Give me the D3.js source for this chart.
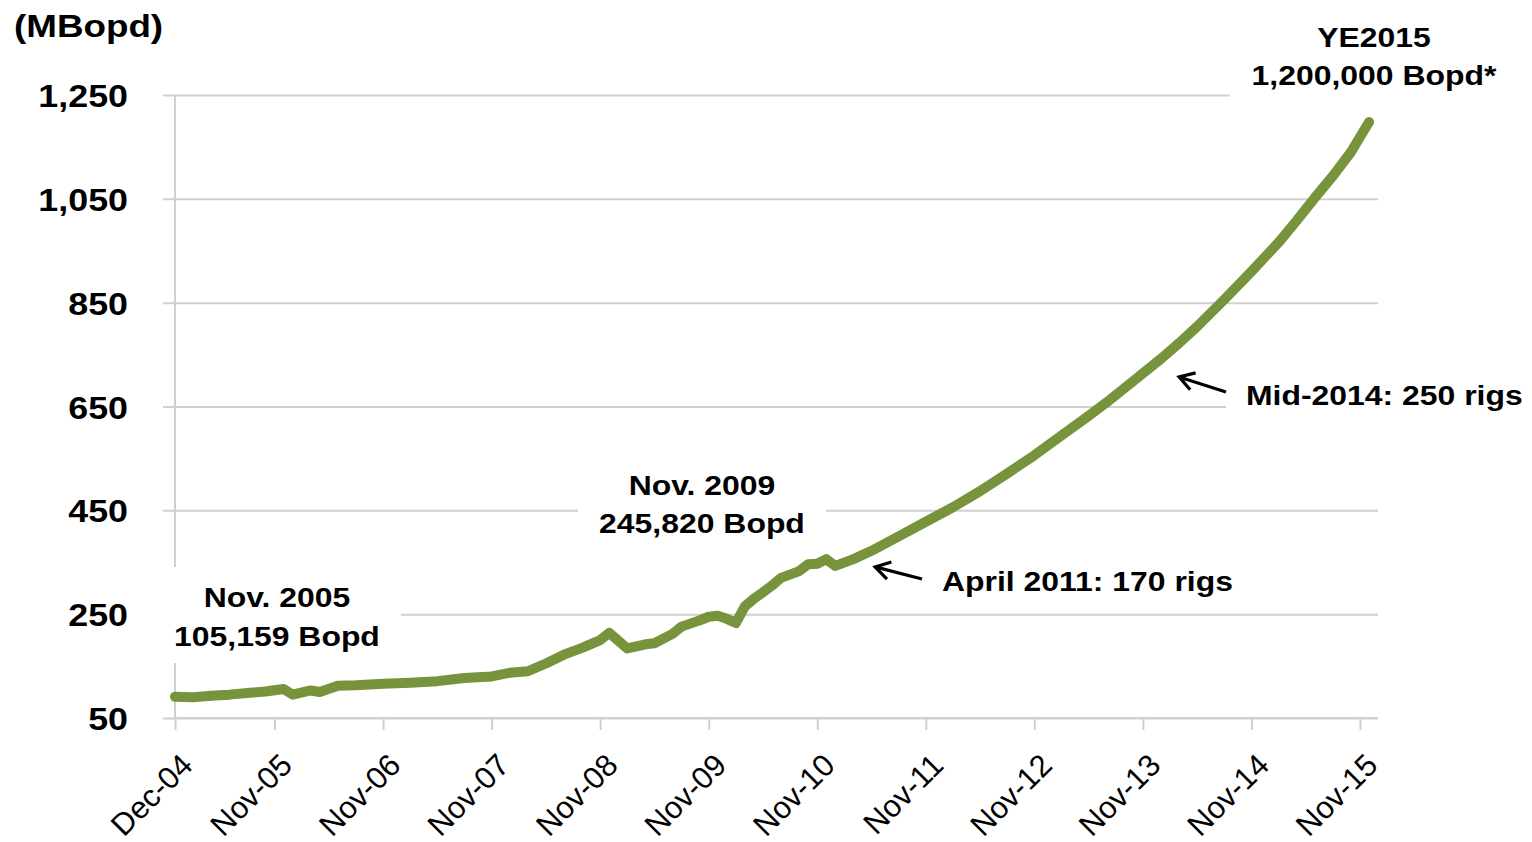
<!DOCTYPE html>
<html>
<head>
<meta charset="utf-8">
<script src="https://cdn.jsdelivr.net/npm/d3@7"></script>
<style>
  body { margin: 0; background: #fff; }
  svg { display: block; font-family: "Liberation Sans", Arial, sans-serif; }
</style>
</head>
<body>
<svg width="1532" height="842"></svg>
<script>
// months counted from Dec-04 (0) to Dec-15 (132)
var months = [0, 2, 4, 6, 8, 10, 12, 13, 15, 16, 18, 20, 23, 26, 29, 32, 35, 37, 39, 41, 43, 45, 47, 48, 50, 52, 53, 55, 56, 58, 59, 60, 61, 62, 63, 64, 65, 66, 67, 69, 70, 71, 72, 73, 75, 77, 80, 83, 86, 89, 92, 95, 98, 101, 103, 106, 109, 111, 113, 116, 119, 122, 124, 126, 128, 130, 132];
var production = [91, 90, 93, 95, 98, 101, 106, 95, 103, 100, 112, 113, 116, 118, 121, 127, 130, 137, 140, 155, 172, 185, 200, 214, 184, 192, 194, 212, 226, 238, 245, 247, 241, 233, 265, 280, 292, 305, 320, 333, 346, 347, 356, 343, 356, 372, 400, 428, 456, 487, 521, 556, 594, 632, 658, 700, 742, 772, 804, 856, 910, 966, 1008, 1052, 1094, 1140, 1198];

var tickMonths = [0, 11, 23, 35, 47, 59, 71, 83, 95, 107, 119, 131];
var tickLabels = ["Dec-04", "Nov-05", "Nov-06", "Nov-07", "Nov-08", "Nov-09", "Nov-10", "Nov-11", "Nov-12", "Nov-13", "Nov-14", "Nov-15"];
var yTicks = [50, 250, 450, 650, 850, 1050, 1250];

var svg = d3.select("svg");

var x = d3.scaleLinear().domain([0, 131]).range([175, 1360]);
var y = d3.scaleLinear().domain([50, 1250]).range([718, 95]);

var grid = "#d0d0d0",
    green = "#77933c",
    font = "'Liberation Sans', Arial, sans-serif";

// gridlines + y ticks
var yAxis = d3.axisLeft(y)
  .tickValues(yTicks)
  .tickSize(-(x(133) - x(0)))
  .tickSizeOuter(0)
  .tickFormat(d3.format(","));

var gy = svg.append("g").attr("transform", "translate(" + x(0) + ",0)").call(yAxis);
gy.select(".domain").remove();
gy.selectAll(".tick line").attr("stroke", grid).attr("stroke-width", 2).attr("x1", -12);
gy.selectAll(".tick text")
  .attr("fill", "#000")
  .attr("font-size", 32)
  .attr("font-weight", "bold")
  .attr("font-family", font)
  .attr("dy", "0.36em")
  .attr("transform", "scale(1.12,1)")
  .attr("x", -47 / 1.12);

// vertical axis line
svg.append("line")
  .attr("x1", x(0)).attr("x2", x(0))
  .attr("y1", y(1250)).attr("y2", y(50))
  .attr("stroke", grid).attr("stroke-width", 2);

// x axis
var xAxis = d3.axisBottom(x)
  .tickValues(tickMonths)
  .tickSize(12)
  .tickSizeOuter(0)
  .tickFormat(function(d, i) { return tickLabels[i]; });

var gx = svg.append("g").attr("transform", "translate(0," + y(50) + ")").call(xAxis);
gx.select(".domain").attr("stroke", grid).attr("stroke-width", 2)
  .attr("d", "M" + x(0) + ",0H" + x(133));
gx.selectAll(".tick line").attr("stroke", grid).attr("stroke-width", 2);
gx.selectAll(".tick text")
  .attr("fill", "#000")
  .attr("font-size", 31)
  .attr("font-family", font)
  .attr("text-anchor", "end")
  .attr("y", 0)
  .attr("dy", 0)
  .attr("transform", "translate(19,49) rotate(-45)");

// white boxes behind the annotation text
var boxes = [
  [150, 567, 251, 96],
  [578, 462, 248, 80],
  [1230, 18, 295, 84],
  [1226, 375, 305, 40],
  [935, 558, 305, 44]
];
svg.selectAll("rect.box").data(boxes).enter().append("rect")
  .attr("class", "box")
  .attr("x", function(d) { return d[0]; })
  .attr("y", function(d) { return d[1]; })
  .attr("width", function(d) { return d[2]; })
  .attr("height", function(d) { return d[3]; })
  .attr("fill", "#fff");

// production line
var line = d3.line()
  .x(function(d, i) { return x(months[i]); })
  .y(function(d) { return y(d); });

svg.append("path")
  .datum(production)
  .attr("d", line)
  .attr("fill", "none")
  .attr("stroke", green)
  .attr("stroke-width", 10)
  .attr("stroke-linejoin", "round")
  .attr("stroke-linecap", "round");

// text helper
function label(tx, ty, str, size, anchor, sx) {
  svg.append("text")
    .attr("transform", "translate(" + tx + "," + ty + ") scale(" + sx + ",1)")
    .attr("text-anchor", anchor)
    .attr("font-size", size)
    .attr("font-weight", "bold")
    .attr("font-family", font)
    .attr("fill", "#000")
    .text(str);
}

label(14, 37, "(MBopd)", 32, "start", 1.15);

label(277, 607, "Nov. 2005", 28, "middle", 1.14);
label(277, 646, "105,159 Bopd", 28, "middle", 1.14);

label(702, 495, "Nov. 2009", 28, "middle", 1.14);
label(702, 533, "245,820 Bopd", 28, "middle", 1.14);

label(1374, 47, "YE2015", 28, "middle", 1.14);
label(1374, 85, "1,200,000 Bopd*", 28, "middle", 1.14);

label(1246, 405, "Mid-2014: 250 rigs", 28, "start", 1.14);
label(942, 591, "April 2011: 170 rigs", 28, "start", 1.14);

// arrows
function arrow(x0, y0, x1, y1) {
  var a = Math.atan2(y1 - y0, x1 - x0), len = 17, spread = 0.55;
  var p = d3.path();
  p.moveTo(x0, y0); p.lineTo(x1, y1);
  p.moveTo(x1 - len * Math.cos(a - spread), y1 - len * Math.sin(a - spread));
  p.lineTo(x1, y1);
  p.lineTo(x1 - len * Math.cos(a + spread), y1 - len * Math.sin(a + spread));
  svg.append("path").attr("d", p.toString())
    .attr("fill", "none").attr("stroke", "#000").attr("stroke-width", 3.2)
    .attr("stroke-linecap", "butt").attr("stroke-linejoin", "miter");
}
arrow(1226, 392, x(111), y(707));
arrow(922, 579, x(77.4), y(341));
</script>
</body>
</html>
